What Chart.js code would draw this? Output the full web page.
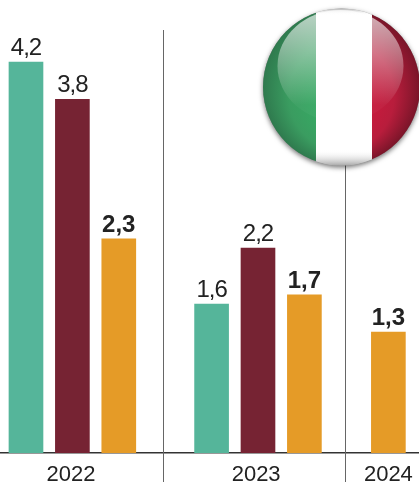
<!DOCTYPE html>
<html>
<head>
<meta charset="utf-8">
<style>
html, body { margin: 0; padding: 0; background: #fff; }
#wrap { width: 419px; height: 482px; }
</style>
<script src="https://cdn.jsdelivr.net/npm/chart.js@4"></script>
</head>
<body>
<div id="wrap"><canvas id="chart" width="419" height="482"></canvas></div>
<script>
const years = ['2022', '2023', '2024'];
const green = [4.2, 1.6, null];
const maroon = [3.8, 2.2, null];
const orange = [2.3, 1.7, 1.3];

// x axis runs in bar slots: one unit = one bar plus its gap
const yearStart = [0, 4, 5.81];
const yearCenter = [0.97, 4.96, 7.81];
const dividers = [2.95, 6.875];

function toPoints(values, slot) {
    return values
        .map((v, i) => ({ x: yearStart[i] + slot, y: v }))
        .filter(p => p.y !== null);
}

function dataset(values, slot, color, bold) {
    return {
        data: toPoints(values, slot),
        backgroundColor: color,
        barThickness: 34,
        grouped: false,
        boldLabel: bold
    };
}

// vertical lines between the years
const dividerLines = {
    id: 'dividerLines',
    beforeDatasetsDraw(chart) {
        const c = chart.ctx;
        c.save();
        c.strokeStyle = '#666';
        c.lineWidth = 1;
        dividers.forEach(d => {
            const x = Math.round(chart.scales.x.getPixelForValue(d)) + 0.5;
            c.beginPath();
            c.moveTo(x, 30);
            c.lineTo(x, 482);
            c.stroke();
        });
        c.restore();
    }
};

// numbers above the bars, with a decimal comma
const valueLabels = {
    id: 'valueLabels',
    afterDatasetsDraw(chart) {
        const c = chart.ctx;
        c.save();
        c.textAlign = 'center';
        c.textBaseline = 'alphabetic';
        c.fillStyle = '#222';
        chart.data.datasets.forEach((ds, i) => {
            c.font = ds.boldLabel ? 'bold 24px "Liberation Sans"' : '24px "Liberation Sans"';
            c.letterSpacing = ds.boldLabel ? '0px' : '-1px';
            chart.getDatasetMeta(i).data.forEach((bar, j) => {
                const text = ds.data[j].y.toFixed(1).replace('.', ',');
                c.fillText(text, bar.x, bar.y - 7);
            });
        });
        c.restore();
    }
};

// glossy round flag in the top right corner
const flagBadge = {
    id: 'flagBadge',
    afterDraw(chart) {
        const c = chart.ctx;
        const cx = 341.5, cy = 87, r = 78.5;
        c.save();

        c.shadowColor = 'rgba(0,0,0,0.55)';
        c.shadowBlur = 5;
        c.shadowOffsetY = 2;
        c.fillStyle = '#888';
        c.beginPath();
        c.arc(cx, cy, r, 0, Math.PI * 2);
        c.fill();
        c.shadowColor = 'transparent';

        c.beginPath();
        c.arc(cx, cy, r, 0, Math.PI * 2);
        c.clip();

        const greenFill = c.createRadialGradient(cx + 10, cy + 25, 15, cx, cy, r);
        greenFill.addColorStop(0, '#35b065');
        greenFill.addColorStop(0.65, '#3a9c60');
        greenFill.addColorStop(1, '#2f7a4e');
        c.fillStyle = greenFill;
        c.fillRect(cx - r, cy - r, 316 - (cx - r), 2 * r);

        c.fillStyle = '#fff';
        c.fillRect(316, cy - r, 56, 2 * r);

        const redFill = c.createRadialGradient(cx - 10, cy + 25, 15, cx, cy, r);
        redFill.addColorStop(0, '#d6183e');
        redFill.addColorStop(0.65, '#b81d3c');
        redFill.addColorStop(1, '#7a1529');
        c.fillStyle = redFill;
        c.fillRect(372, cy - r, cx + r - 372, 2 * r);

        // rim shading on the white stripe
        const rim = c.createLinearGradient(0, cy - r, 0, cy + r);
        rim.addColorStop(0, 'rgba(120,120,120,0.6)');
        rim.addColorStop(0.04, 'rgba(255,255,255,0)');
        rim.addColorStop(0.9, 'rgba(255,255,255,0)');
        rim.addColorStop(1, 'rgba(110,110,110,0.6)');
        c.fillStyle = rim;
        c.fillRect(316, cy - r, 56, 2 * r);

        // gloss over the upper half
        const gloss = c.createLinearGradient(0, cy - r, 0, cy + 18);
        gloss.addColorStop(0, 'rgba(255,255,255,0.7)');
        gloss.addColorStop(1, 'rgba(255,255,255,0.03)');
        c.fillStyle = gloss;
        c.beginPath();
        c.ellipse(cx - 1, cy - 21, 63, 56, 0, 0, Math.PI * 2);
        c.fill();

        c.restore();
    }
};

new Chart(document.querySelector('#chart').getContext('2d'), {
    type: 'bar',
    data: {
        datasets: [
            dataset(green, 0, '#55b59a', false),
            dataset(maroon, 1, '#762333', false),
            dataset(orange, 2, '#e59b27', true)
        ]
    },
    options: {
        responsive: false,
        animation: false,
        layout: { padding: 0 },
        plugins: {
            legend: { display: false },
            title: { display: false },
            tooltip: { enabled: false }
        },
        scales: {
            x: {
                type: 'linear',
                offset: false,
                min: -0.56,
                max: 8.47,
                grid: { display: false, drawTicks: false },
                border: { display: true, color: '#333', width: 1.5 },
                afterBuildTicks(axis) {
                    axis.ticks = yearCenter.map(v => ({ value: v }));
                },
                afterFit(axis) {
                    axis.height = 29;
                    // the outer labels must not shrink the plot area
                    axis.paddingLeft = 0;
                    axis.paddingRight = 0;
                },
                ticks: {
                    autoSkip: false,
                    maxRotation: 0,
                    padding: 9,
                    color: '#222',
                    font: { family: 'Liberation Sans', size: 22 },
                    callback: (value) => years[yearCenter.indexOf(value)]
                }
            },
            y: {
                display: false,
                min: 0,
                max: 4.866
            }
        }
    },
    plugins: [dividerLines, valueLabels, flagBadge]
});
</script>
</body>
</html>
